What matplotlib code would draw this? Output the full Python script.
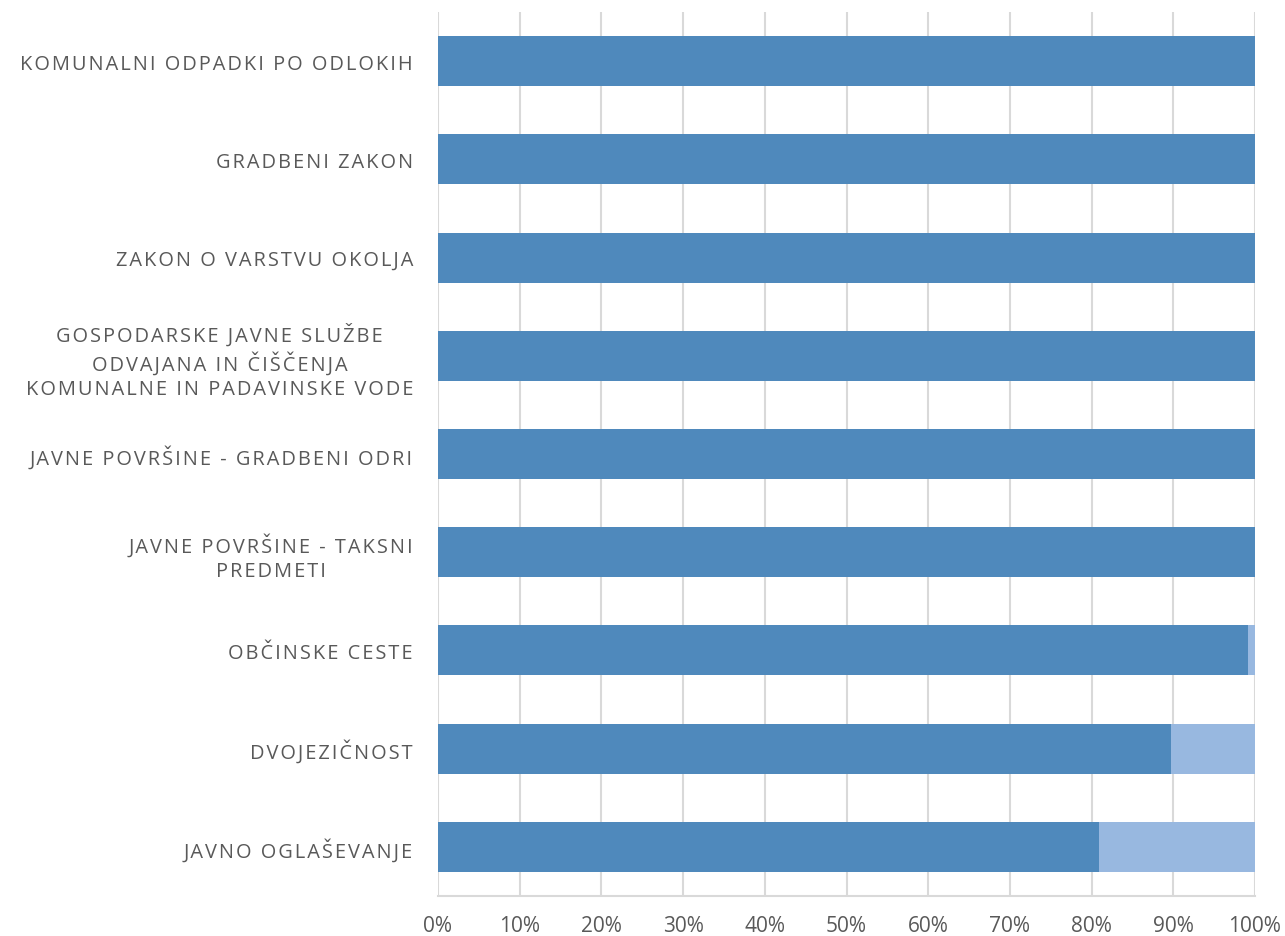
import matplotlib
matplotlib.use("Agg")
import matplotlib.pyplot as plt
from matplotlib.ticker import FuncFormatter

categories = [
    "KOMUNALNI ODPADKI PO ODLOKIH",
    "GRADBENI ZAKON",
    "ZAKON O VARSTVU OKOLJA",
    "GOSPODARSKE JAVNE SLUŽBE\nODVAJANA IN ČIŠČENJA\nKOMUNALNE IN PADAVINSKE VODE",
    "JAVNE POVRŠINE - GRADBENI ODRI",
    "JAVNE POVRŠINE - TAKSNI\nPREDMETI",
    "OBČINSKE CESTE",
    "DVOJEZIČNOST",
    "JAVNO OGLAŠEVANJE",
]
series_a = [100, 100, 100, 100, 100, 100, 99.1, 89.7, 80.9]
series_b = [0, 0, 0, 0, 0, 0, 0.9, 10.3, 19.1]
xticks = [0, 10, 20, 30, 40, 50, 60, 70, 80, 90, 100]

LS = "\u200a"

def spread(label):
    lines = []
    for line in label.split("\n"):
        words = line.split(" ")
        lines.append((LS + " " + LS).join(LS.join(list(w)) for w in words))
    return "\n".join(lines)

plt.rcParams['font.family'] = ['Open Sans', 'DejaVu Sans']

fig = plt.figure(figsize=(12.85, 9.37), dpi=100)
ax = fig.add_axes([438/1285, 1-897/937, (1255-438)/1285, (897-13)/937])

y = list(range(len(categories)))
ax.barh(y, series_a, height=0.51, color="#4F89BC", zorder=3)
ax.barh(y, series_b, left=series_a, height=0.51, color="#98B8E0", zorder=3)

ax.set_xlim(0, 100)
ax.set_ylim(len(categories) - 0.5, -0.5)
ax.set_xticks(xticks)
ax.xaxis.set_major_formatter(FuncFormatter(lambda v, p: f"{int(v)}%"))
ax.set_yticks(y)
ax.set_yticklabels([spread(c) for c in categories], multialignment="center",
                   fontsize=14.4, color="#595959", linespacing=1.28)
ax.tick_params(axis="y", length=0, pad=18)
ax.tick_params(axis="x", length=0, pad=14, labelsize=15, labelcolor="#595959")

ax.grid(axis="x", color="#D9D9D9", linewidth=1.5, zorder=0)
for s in ["top", "right", "left"]:
    ax.spines[s].set_visible(False)
ax.spines["bottom"].set_color("#D9D9D9")
ax.spines["bottom"].set_linewidth(1.5)

fig.savefig("out.png", dpi=100)
